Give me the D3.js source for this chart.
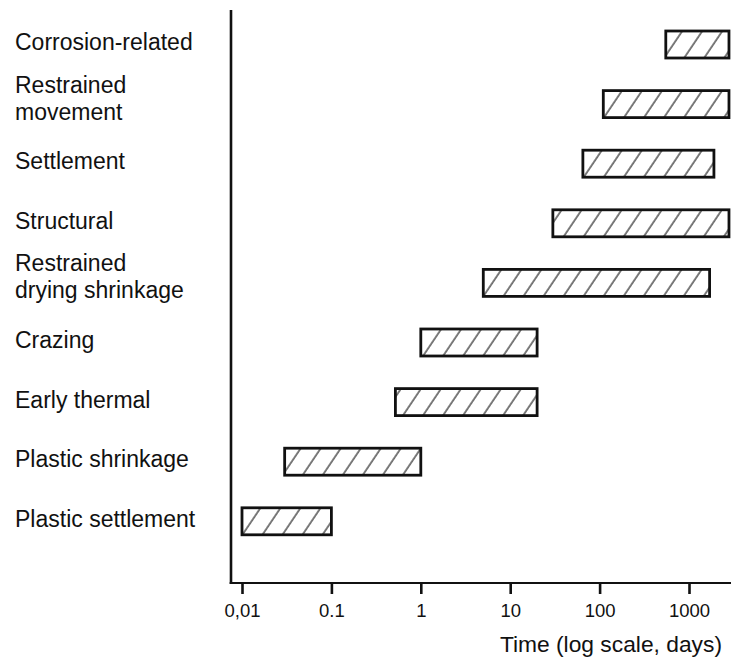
<!DOCTYPE html>
<html>
<head>
<meta charset="utf-8">
<script src="https://cdn.jsdelivr.net/npm/d3@7/dist/d3.min.js"></script>
<style>
  html, body { margin: 0; padding: 0; background: #fff; }
  svg { display: block; }
  text { font-family: "Liberation Sans", Arial, Helvetica, sans-serif; fill: #111; }
</style>
</head>
<body>
<svg id="chart" width="731" height="661"></svg>
<script>
// ---- data ----
const categories = [
  ["Corrosion-related"],
  ["Restrained", "movement"],
  ["Settlement"],
  ["Structural"],
  ["Restrained", "drying shrinkage"],
  ["Crazing"],
  ["Early thermal"],
  ["Plastic shrinkage"],
  ["Plastic settlement"]
];
const startDays = [550, 110, 65, 30, 5, 1, 0.52, 0.03, 0.01];
const endDays   = [2800, 2800, 1900, 2800, 1700, 20, 20, 1, 0.1];
const tickValues = [0.01, 0.1, 1, 10, 100, 1000];
const tickLabels = ["0,01", "0.1", "1", "10", "100", "1000"];
const axisTitle = "Time (log scale, days)";

// ---- layout ----
const svg = d3.select("#chart");
const axisX = 231, axisY = 583;

const x = d3.scaleLog().domain([0.01, 1000]).range([242, 689]);
const y = d3.scalePoint().domain(d3.range(categories.length)).range([44.5, 521.3]);
const barH = 27;

// hatch pattern
const defs = svg.append("defs");
const pat = defs.append("pattern")
  .attr("id", "hatch")
  .attr("patternUnits", "userSpaceOnUse")
  .attr("width", 16.6).attr("height", 40)
  .attr("patternTransform", "rotate(34)");
pat.append("line")
  .attr("x1", 2).attr("y1", -5).attr("x2", 2).attr("y2", 45)
  .attr("stroke", "#222").attr("stroke-width", 1.2);

// bars
const bars = svg.append("g");
bars.selectAll("rect")
  .data(d3.range(categories.length))
  .join("rect")
  .attr("x", i => x(startDays[i]))
  .attr("y", i => y(i) - barH / 2)
  .attr("width", i => x(endDays[i]) - x(startDays[i]))
  .attr("height", barH)
  .attr("fill", "url(#hatch)")
  .attr("stroke", "#111")
  .attr("stroke-width", 2.8);

// labels
const labels = svg.append("g");
categories.forEach((lines, i) => {
  const c = y(i);
  const t = labels.append("text")
    .attr("x", 15)
    .attr("font-size", 23);
  if (lines.length === 1) {
    t.append("tspan").attr("x", 15).attr("y", c + 5.5).text(lines[0]);
  } else {
    t.append("tspan").attr("x", 15).attr("y", c - 11.5).text(lines[0]);
    t.append("tspan").attr("x", 15).attr("y", c + 15.5).text(lines[1]);
  }
});

// y axis line
svg.append("line")
  .attr("x1", axisX).attr("x2", axisX)
  .attr("y1", 10).attr("y2", axisY + 1)
  .attr("stroke", "#111").attr("stroke-width", 2.6);

// x axis
const xAxis = d3.axisBottom(x)
  .tickValues(tickValues)
  .tickFormat((d, i) => tickLabels[i])
  .tickSize(11)
  .tickPadding(10);
const gx = svg.append("g")
  .attr("transform", `translate(0,${axisY})`)
  .call(xAxis);
gx.select(".domain").remove();
gx.selectAll(".tick line").attr("stroke", "#111").attr("stroke-width", 2.6);
gx.selectAll(".tick text")
  .attr("font-size", 18.5)
  .attr("font-family", "'Liberation Sans', Arial, sans-serif")
  .attr("fill", "#111");
svg.append("line")
  .attr("x1", axisX - 1.3).attr("x2", 731)
  .attr("y1", axisY).attr("y2", axisY)
  .attr("stroke", "#111").attr("stroke-width", 2.2);

// axis title
svg.append("text")
  .attr("x", 722).attr("y", 652)
  .attr("text-anchor", "end")
  .attr("font-size", 22.8)
  .text(axisTitle);
</script>
</body>
</html>
